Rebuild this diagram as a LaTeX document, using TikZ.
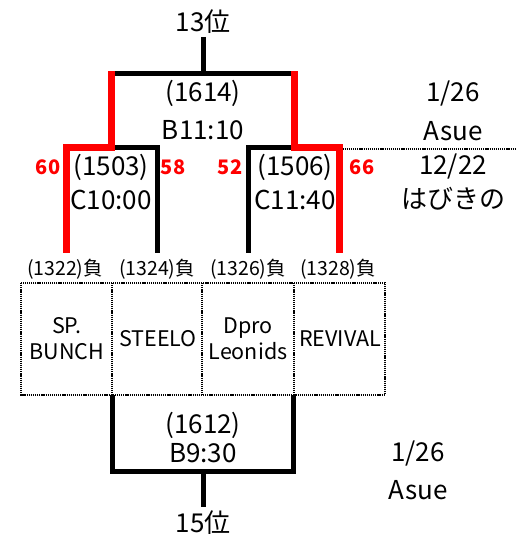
\documentclass[tikz,border=0pt]{standalone}
\usepackage{fontspec}
\setmainfont{Noto Sans CJK JP}
\begin{document}
\begin{tikzpicture}[x=1pt,y=-1pt,
  big/.style={font=\fontsize{26}{29}\selectfont, inner sep=0pt},
  small/.style={font=\fontsize{19.5}{22}\selectfont, inner sep=0pt},
  team/.style={font=\fontsize{21.5}{26}\selectfont, inner sep=0pt, align=center},
  score/.style={font=\fontsize{20}{22}\selectfont\bfseries, text=red, inner sep=0pt},
  blk/.style={line width=5pt, line cap=butt, line join=miter},
  redl/.style={line width=7pt, red, line cap=butt, line join=miter},
  dotl/.style={line width=2pt, dash pattern=on 1.2pt off 0.9pt},
]
\useasboundingbox (0,0) rectangle (516,537);
% texts
\node[big] (r13) at (203,22) {13位};
\node[big] (m1614) at (203,93) {(1614)};
\node[big] (t1614) at (203,130) {B11:10};
\node[big] (d1) at (453,94) {1/26};
\node[big] (v1) at (453,131) {Asue};
\node[big] (d2) at (453,167) {12/22};
\node[big] (v2) at (453,199) {はびきの};
\node[big] (m1503) at (111,167) {(1503)};
\node[big] (t1503) at (111,200) {C10:00};
\node[big] (m1506) at (295,167) {(1506)};
\node[big] (t1506) at (295,200) {C11:40};
\node[score] (s60) at (48,167) {60};
\node[score] (s58) at (173,167) {58};
\node[score] (s52) at (230,167) {52};
\node[score] (s66) at (362,167) {66};
\node[small] (m1322) at (65,269) {(1322)負};
\node[small] (m1324) at (157,269) {(1324)負};
\node[small] (m1326) at (248,269) {(1326)負};
\node[small] (m1328) at (338,269) {(1328)負};
\node[team] (tA) at (67,339) {SP.\\BUNCH};
\node[team] (tB) at (158,339) {STEELO};
\node[team] (tC) at (248,339) {Dpro\\Leonids};
\node[team] (tD) at (340,339) {REVIVAL};
\node[big] (m1612) at (203,425) {(1612)};
\node[big] (t1612) at (203,453) {B9:30};
\node[big] (r15) at (203,523) {15位};
\node[big] (d3) at (418,453) {1/26};
\node[big] (v3) at (418,490) {Asue};
% coordinates
\coordinate (topA) at (203,37);
\coordinate (topB) at (203,74);
\coordinate (barL) at (114.5,74);
\coordinate (barR) at (290.5,74);
\coordinate (rL1) at (111,71.5);
\coordinate (rL2) at (111,148);
\coordinate (rL3) at (66,148);
\coordinate (rL4) at (66,253);
\coordinate (bL1) at (114.5,148);
\coordinate (bL2) at (157,148);
\coordinate (bL3) at (157,253);
\coordinate (rR1) at (294,71.5);
\coordinate (rR2) at (294,148);
\coordinate (rR3) at (339,148);
\coordinate (rR4) at (339,253);
\coordinate (bR1) at (290.5,148);
\coordinate (bR2) at (248,148);
\coordinate (bR3) at (248,253);
\coordinate (dl1) at (342.5,149);
\coordinate (dl2) at (516,149);
\coordinate (bx1) at (21,283);
\coordinate (bx2) at (385,395);
\coordinate (bot1) at (112,395);
\coordinate (bot2) at (112,471);
\coordinate (bot3) at (293,471);
\coordinate (bot4) at (293,395);
\coordinate (botA) at (203,471);
\coordinate (botB) at (203,507);
% lines
\draw[blk] (topA) -- (topB);
\draw[blk] (barL) -- (barR);
\draw[blk] (bL1) -- (bL2) -- (bL3);
\draw[blk] (bR1) -- (bR2) -- (bR3);
\draw[redl] (rL1) -- (rL2) -- (rL3) -- (rL4);
\draw[redl] (rR1) -- (rR2) -- (rR3) -- (rR4);
\draw[dotl] (dl1) -- (dl2);
\draw[dotl] (bx1) rectangle (bx2);
\draw[dotl] (112,283) -- (112,395);
\draw[dotl] (202,283) -- (202,395);
\draw[dotl] (294,283) -- (294,395);
\draw[blk] (bot1) -- (bot2) -- (bot3) -- (bot4);
\draw[blk] (botA) -- (botB);
\end{tikzpicture}
\end{document}
